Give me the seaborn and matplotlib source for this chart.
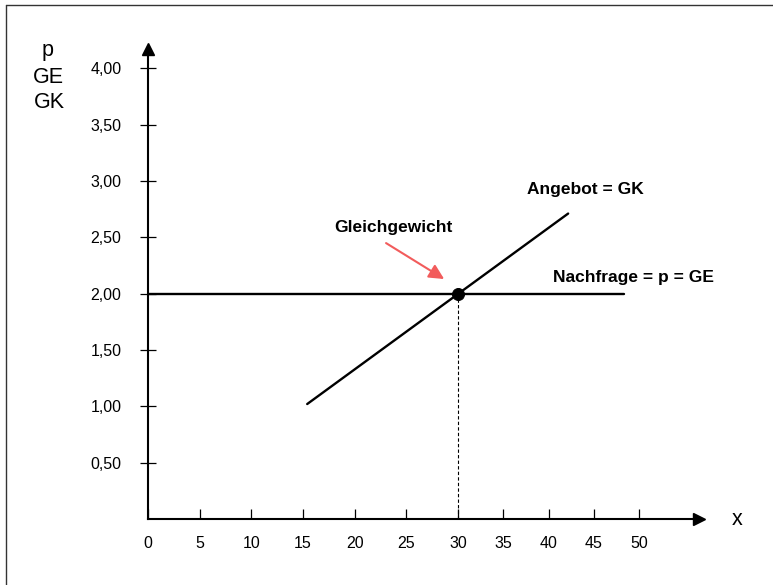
import numpy as np
import pandas as pd
import matplotlib
matplotlib.use("Agg")
import matplotlib.pyplot as plt
from matplotlib.lines import Line2D
import seaborn as sns

# ---- data ----
x_ticks = [0, 5, 10, 15, 20, 25, 30, 35, 40, 45, 50]
x_tick_labels = ["0", "5", "10", "15", "20", "25", "30", "35", "40", "45", "50"]
y_ticks = [0.5, 1.0, 1.5, 2.0, 2.5, 3.0, 3.5, 4.0]
y_tick_labels = ["0,50", "1,00", "1,50", "2,00", "2,50", "3,00", "3,50", "4,00"]

demand_x = [0, 48.3]
demand_p = [2.0, 2.0]
supply_x = [15.4, 42.15]
supply_p = [1.02, 2.71]
eq_x = [30]
eq_p = [2.0]

sns.set_style("white")
plt.rcParams["font.family"] = ["Liberation Sans", "DejaVu Sans"]
plt.rcParams["text.color"] = "black"

W, H = 773, 585
fig = plt.figure(figsize=(W / 100, H / 100), dpi=100)
ax_left, ax_right, ax_bottom, ax_top = 148, 699, 519, 49
ax = fig.add_axes([ax_left / W, (H - ax_bottom) / H,
                   (ax_right - ax_left) / W, (ax_bottom - ax_top) / H])

# piecewise x scale (ticks beyond 30 are drawn closer together in the original)
K = 0.876
def fwd(v):
    v = np.asarray(v, dtype=float)
    return np.where(v <= 30, v, 30 + (v - 30) * K)
def inv(v):
    v = np.asarray(v, dtype=float)
    return np.where(v <= 30, v, 30 + (v - 30) / K)
ax.set_xscale("function", functions=(fwd, inv))
ax.set_xlim(0, 56.6)
ax.set_ylim(0, 4.17)

df_d = pd.DataFrame({"x": demand_x, "p": demand_p})
df_s = pd.DataFrame({"x": supply_x, "p": supply_p})
df_e = pd.DataFrame({"x": eq_x, "p": eq_p})

ax.vlines(eq_x, 0, eq_p, colors="black", linestyles=(0, (3, 2)), lw=0.8, zorder=2)
sns.lineplot(data=df_d, x="x", y="p", ax=ax, color="black", lw=1.7, zorder=3)
sns.lineplot(data=df_s, x="x", y="p", ax=ax, color="black", lw=1.7, zorder=3)
sns.scatterplot(data=df_e, x="x", y="p", ax=ax, color="black", s=75,
                edgecolor="black", zorder=4)

# spines / axes
for s in ["top", "right"]:
    ax.spines[s].set_visible(False)
for s in ["left", "bottom"]:
    ax.spines[s].set_linewidth(1.5)
    ax.spines[s].set_color("black")
ax.plot(1, 0, ">", color="black", markersize=8.6, transform=ax.transAxes, clip_on=False)
ax.plot(0, 1, "^", color="black", markersize=8.6, transform=ax.transAxes, clip_on=False)

ax.set_xticks(x_ticks)
ax.set_xticklabels(x_tick_labels)
ax.set_yticks(y_ticks)
ax.set_yticklabels(y_tick_labels)
ax.minorticks_off()
ax.tick_params(axis="x", direction="in", length=7.2, width=0.9, color="black",
               pad=12.5, labelsize=11.5, labelcolor="black", bottom=True)
ax.tick_params(axis="y", direction="inout", length=12.2, width=0.9, color="black",
               pad=13, labelsize=11.5, labelcolor="black", left=True)
ax.set_xlabel("")
ax.set_ylabel("")
if ax.get_legend():
    ax.get_legend().remove()

# annotations
ax.text(23.7, 2.545, "Gleichgewicht", fontsize=12.5, fontweight="bold",
        ha="center", va="baseline", color="black")
ax.text(37.6, 2.88, "Angebot = GK", fontsize=12.5, fontweight="bold",
        ha="left", va="baseline", color="black")
ax.text(40.5, 2.10, "Nachfrage = p = GE", fontsize=12.5, fontweight="bold",
        ha="left", va="baseline", color="black")
ax.annotate("", xy=(28.65, 2.129), xytext=(23.03, 2.448),
            arrowprops=dict(arrowstyle="-|>,head_length=0.6,head_width=0.3",
                            color="#f25c5c", lw=1.5, mutation_scale=15,
                            shrinkA=0, shrinkB=0))

# axis titles
fig.text(48 / W, 1 - 56 / H, "p", fontsize=15.5, ha="center", va="baseline", color="black")
fig.text(48 / W, 1 - 83 / H, "GE", fontsize=15.5, ha="center", va="baseline", color="black")
fig.text(49 / W, 1 - 108 / H, "GK", fontsize=15.5, ha="center", va="baseline", color="black")
fig.text(737 / W, 1 - 525 / H, "x", fontsize=15.5, ha="center", va="baseline", color="black")

# frame (left and top)
fig.add_artist(Line2D([5.5 / W, 5.5 / W], [0, 1 - 4.5 / H],
                      transform=fig.transFigure, color="#333333", lw=1))
fig.add_artist(Line2D([5.5 / W, 1], [1 - 4.5 / H, 1 - 4.5 / H],
                      transform=fig.transFigure, color="#333333", lw=1))

fig.savefig("out.png", dpi=100)
